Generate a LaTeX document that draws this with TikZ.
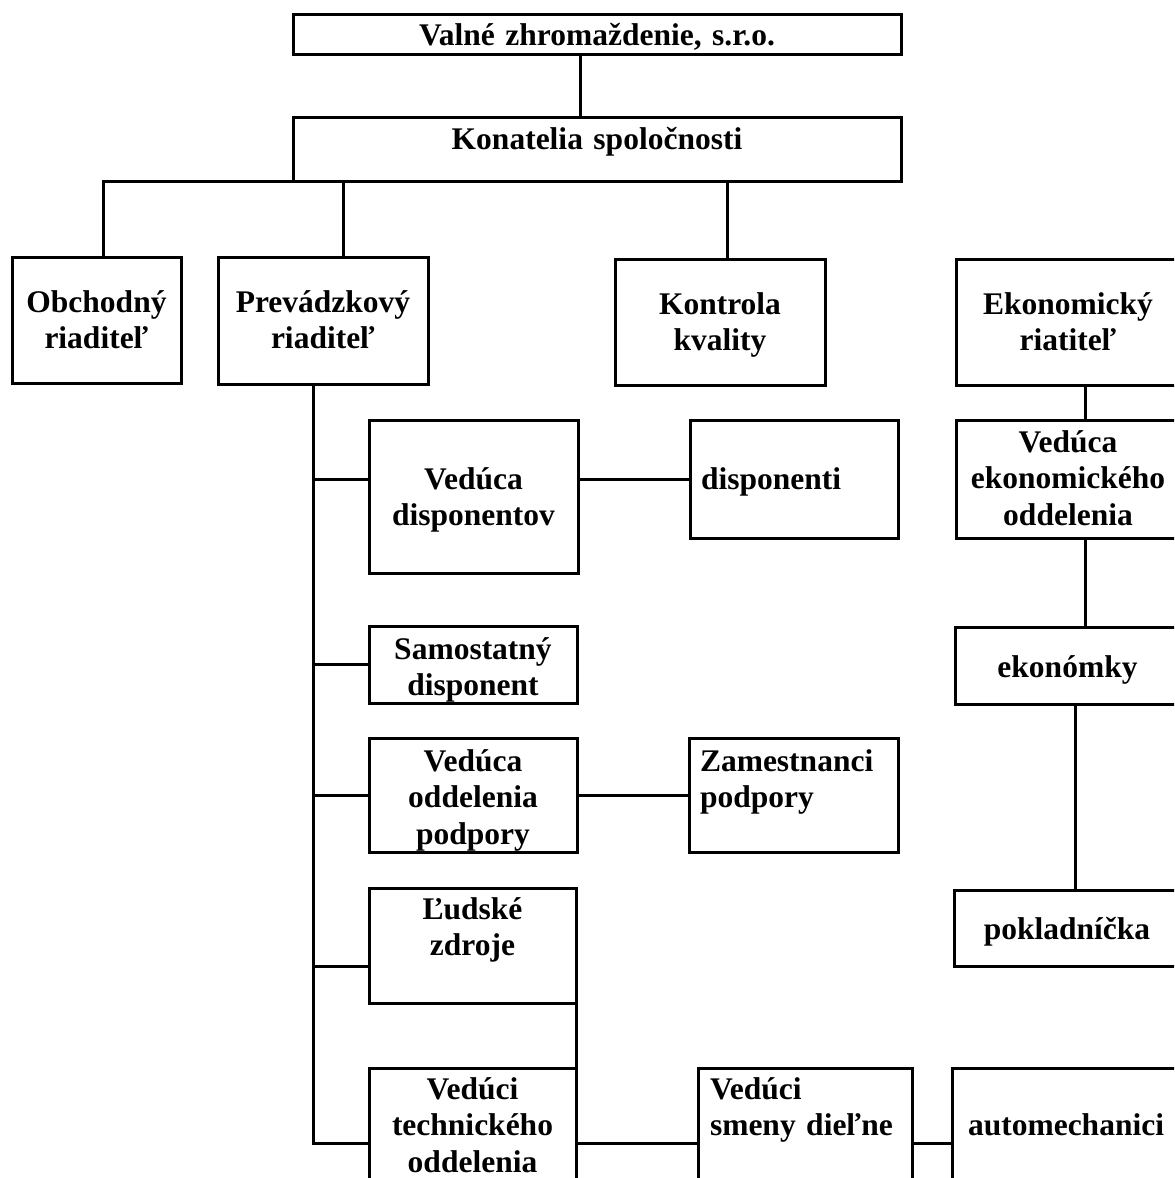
\documentclass[tikz,border=0pt]{standalone}
\usepackage{fontspec}
\setmainfont{Liberation Serif}
\usetikzlibrary{calc}
\tikzset{
  orgbox/.style={draw, line width=1.5pt, inner ysep=0pt, outer sep=0pt, anchor=north west,
    font=\bfseries\fontsize{15.75}{18.25}\selectfont},
  conn/.style={line width=1.5pt},
}
\newcommand\lefttxt[1]{\makebox[\linewidth][l]{\begin{tabular}[t]{@{}l@{}}#1\end{tabular}}}
% name, left, top, right, bottom, first baseline, pad, text  (all in px)
\newcommand\orgbx[8]{%
  \pgfmathsetmacro\obw{(#4-#2)*0.5}%
  \pgfmathsetmacro\obth{(#6-#3)*0.5}%
  \pgfmathsetmacro\obtd{(#5-#6)*0.5}%
  \pgfmathsetmacro\obtw{(#4-#2-2*#7)*0.5}%
  \pgfmathsetmacro\obpad{#7*0.5}%
  \node[orgbox, minimum width=\obw pt, text height=\obth pt, text depth=\obtd pt,
        text width=\obtw pt, inner xsep=\obpad pt, align=center] (#1) at (#2,#3) {#8};%
}
\begin{document}
\begin{tikzpicture}[x=0.5pt, y=-0.5pt]
\useasboundingbox (0,0) rectangle (1174,1178);
\fill[white] (0,0) rectangle (1174,1178);
\clip (0,0) rectangle (1174,1178);

\orgbx{valne}{293}{14}{901}{54}{45}{6}{Valné zhromaždenie, s.r.o.}
\orgbx{kon}{293}{117}{901}{181}{149}{6}{Konatelia spoločnosti}
\orgbx{obch}{12}{257}{181}{383}{312}{6}{Obchodný\\riaditeľ}
\orgbx{prev}{218}{257}{428}{384}{312}{6}{Prevádzkový\\riaditeľ}
\orgbx{kontr}{615}{259}{825}{385}{314}{6}{Kontrola\\kvality}
\orgbx{ekon}{956}{259}{1180}{385}{314}{6}{Ekonomický\\riatiteľ}
\orgbx{vdisp}{369}{420}{578}{573}{489}{6}{Vedúca\\disponentov}
\orgbx{disp}{690}{420}{898}{538}{489}{11}{\lefttxt{disponenti}}
\orgbx{vekon}{956}{420}{1180}{538}{452}{6}{Vedúca\\ekonomického\\oddelenia}
\orgbx{samo}{369}{626}{577}{703}{659}{6}{Samostatný\\disponent}
\orgbx{ekonomky}{955}{627}{1180}{704}{677}{6}{ekonómky}
\orgbx{vpod}{369}{738}{577}{852}{771}{6}{Vedúca\\oddelenia\\podpory}
\orgbx{zam}{689}{738}{898}{852}{771}{11}{\lefttxt{Zamestnanci\\podpory}}
\orgbx{ludz}{369}{888}{576}{1003}{919}{6}{Ľudské\\zdroje}
\orgbx{pokl}{954}{890}{1180}{966}{939}{6}{pokladníčka}
\orgbx{vtech}{369}{1068}{576}{1218}{1099}{6}{Vedúci\\technického\\oddelenia}
\orgbx{vsmeny}{698}{1068}{912}{1218}{1099}{12}{\lefttxt{Vedúci\\smeny dieľne}}
\orgbx{automech}{952}{1068}{1180}{1218}{1135}{6}{automechanici}

% top part
\draw[conn] ([xshift=-8.5pt]valne.south) -- ([xshift=-8.5pt]kon.north);
\draw[conn] (kon.south west) -| ([xshift=3.25pt]obch.north);
\draw[conn] ([xshift=10pt]prev.north) -- ([xshift=10pt]prev.north |- kon.south);
\draw[conn] ([xshift=3.5pt]kontr.north) -- ([xshift=3.5pt]kontr.north |- kon.south);

% operations spine
\coordinate (sp) at ([xshift=-5pt]prev.south);
\draw[conn] (sp) |- (vtech.west);
\draw[conn] (sp |- disp.west) -- (vdisp.west |- disp.west);
\draw[conn] (vdisp.east |- disp.west) -- (disp.west);
\draw[conn] (sp |- samo.west) -- (samo.west);
\draw[conn] (sp |- vpod.west) -- (vpod.west);
\draw[conn] (vpod.east) -- (zam.west);
\coordinate (lb) at ($(ludz.north west)!0.68!(ludz.south west)$);
\draw[conn] (sp |- lb) -- (lb);
\draw[conn] (ludz.south east) -- (ludz.south east |- vtech.north);
\draw[conn] (vtech.east) -- (vsmeny.west);
\draw[conn] (vsmeny.east) -- (automech.west);

% economic column
\draw[conn] ([xshift=8.5pt]ekon.south) -- ([xshift=8.5pt]ekon.south |- vekon.north);
\draw[conn] ([xshift=8.5pt]vekon.south) -- ([xshift=8.5pt]vekon.south |- ekonomky.north);
\draw[conn] ([xshift=3.75pt]ekonomky.south) -- ([xshift=3.75pt]ekonomky.south |- pokl.north);
\end{tikzpicture}
\end{document}
